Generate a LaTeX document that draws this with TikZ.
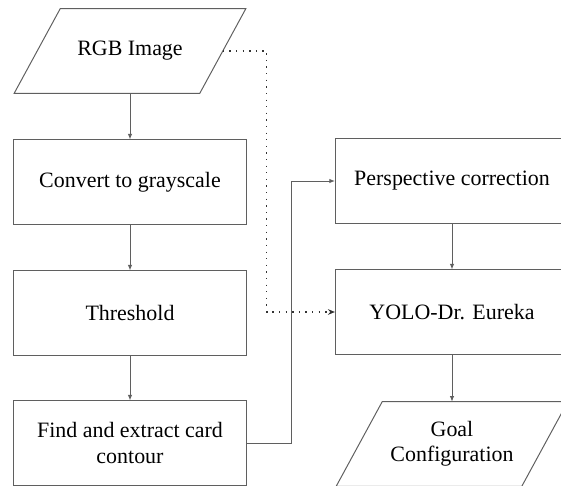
\documentclass[tikz,border=0pt]{standalone}
\usepackage{fontspec}
\setmainfont{Liberation Serif}
\usetikzlibrary{arrows.meta}

\begin{document}
\begin{tikzpicture}[x=0.025cm,y=0.025cm,
   every node/.style={font=\fontsize{15.6}{18}\selectfont, align=center},
   procbox/.style={draw=linegray, line width=0.7pt, minimum width=5.825cm, minimum height=2.1cm, inner sep=2pt},
   iobox/.style={minimum width=3.475cm, minimum height=2.1cm, inner sep=0pt,
      append after command={\pgfextra{\draw[linegray, line width=0.7pt]
         (\tikzlastnode.north west) -- ([xshift=1.15cm]\tikzlastnode.north east) --
         (\tikzlastnode.south east) -- ([xshift=-1.15cm]\tikzlastnode.south west) -- cycle;}}},
   flow/.style={draw=linegray, line width=0.7pt, -{Latex[length=4pt,width=3.2pt]}},
   skip/.style={draw=black!80, line width=0.9pt, dash pattern=on 0.9pt off 3.8pt, -{Stealth[length=5pt,width=4pt]}}]
   \definecolor{linegray}{RGB}{95,95,95}
   \useasboundingbox (0,0) rectangle (561,-486);
   % left column
   \node[iobox]   (rgb)    at (130, -51) {RGB Image};
   \node[procbox] (gray)   at (130,-182) {Convert to grayscale};
   \node[procbox] (thresh) at (130,-313) {Threshold};
   \node[procbox] (find)   at (130,-443) {Find and extract card\\contour};
   % right column
   \node[procbox] (persp)  at (452,-181) {Perspective correction};
   \node[procbox] (yolo)   at (452,-312) {YOLO-Dr. Eureka};
   \node[iobox]   (goal)   at (452,-444) {Goal\\Configuration};
   \draw[flow] (rgb.south) -- (gray.north);
   \draw[flow] (gray.south) -- (thresh.north);
   \draw[flow] (thresh.south) -- (find.north);
   \draw[flow] (find.east) -- ++(44,0) |- (persp.west);
   \draw[flow] (persp.south) -- (yolo.north);
   \draw[flow] (yolo.south) -- (goal.north);
   \draw[skip] ([xshift=0.575cm]rgb.east) -- ++(44,0) |- (yolo.west);
\end{tikzpicture}
\end{document}
